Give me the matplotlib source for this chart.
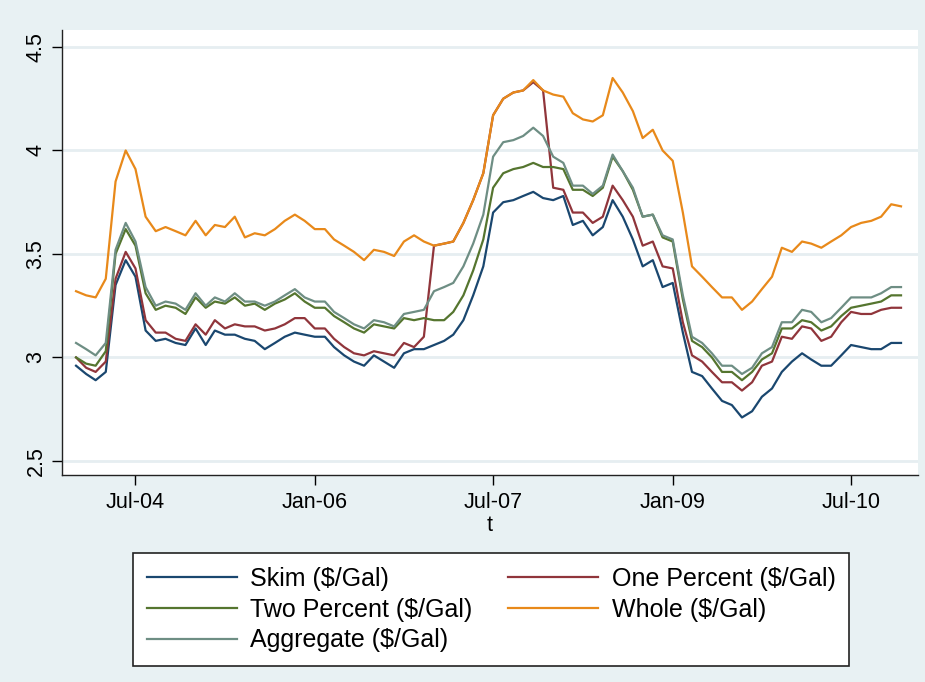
import matplotlib
matplotlib.use("Agg")
import matplotlib.pyplot as plt
import matplotlib.dates as mdates
import pandas as pd
import numpy as np

dates = pd.date_range("2004-01-01", periods=84, freq="MS")

skim = [2.96, 2.92, 2.89, 2.93, 3.35, 3.47, 3.39, 3.13, 3.08, 3.09, 3.07, 3.06,
        3.14, 3.06, 3.13, 3.11, 3.11, 3.09, 3.08, 3.04, 3.07, 3.10, 3.12, 3.11,
        3.10, 3.10, 3.05, 3.01, 2.98, 2.96, 3.01, 2.98, 2.95, 3.02, 3.04, 3.04,
        3.06, 3.08, 3.11, 3.18, 3.30, 3.44, 3.70, 3.75, 3.76, 3.78, 3.80, 3.77,
        3.76, 3.78, 3.64, 3.66, 3.59, 3.63, 3.76, 3.68, 3.57, 3.44, 3.47, 3.34,
        3.36, 3.12, 2.93, 2.91, 2.85, 2.79, 2.77, 2.71, 2.74, 2.81, 2.85, 2.93,
        2.98, 3.02, 2.99, 2.96, 2.96, 3.01, 3.06, 3.05, 3.04, 3.04, 3.07, 3.07]

one_pct = [3.00, 2.95, 2.93, 2.98, 3.38, 3.51, 3.43, 3.18, 3.12, 3.12, 3.09, 3.08,
           3.16, 3.11, 3.18, 3.14, 3.16, 3.15, 3.15, 3.13, 3.14, 3.16, 3.19, 3.19,
           3.14, 3.14, 3.09, 3.05, 3.02, 3.01, 3.03, 3.02, 3.01, 3.07, 3.05, 3.10,
           3.54, 3.55, 3.56, 3.65, 3.76, 3.89, 4.17, 4.25, 4.28, 4.29, 4.33, 4.29,
           3.82, 3.81, 3.70, 3.70, 3.65, 3.68, 3.83, 3.76, 3.68, 3.54, 3.56, 3.44,
           3.43, 3.17, 3.01, 2.98, 2.93, 2.88, 2.88, 2.84, 2.88, 2.96, 2.98, 3.10,
           3.09, 3.15, 3.14, 3.08, 3.10, 3.17, 3.22, 3.21, 3.21, 3.23, 3.24, 3.24]

two_pct = [3.00, 2.97, 2.96, 3.03, 3.50, 3.62, 3.54, 3.31, 3.23, 3.25, 3.24, 3.21,
           3.29, 3.24, 3.27, 3.26, 3.29, 3.25, 3.26, 3.23, 3.26, 3.28, 3.31, 3.27,
           3.24, 3.24, 3.20, 3.17, 3.14, 3.12, 3.16, 3.15, 3.14, 3.19, 3.18, 3.19,
           3.18, 3.18, 3.22, 3.30, 3.42, 3.57, 3.82, 3.89, 3.91, 3.92, 3.94, 3.92,
           3.92, 3.91, 3.81, 3.81, 3.78, 3.82, 3.97, 3.90, 3.81, 3.68, 3.69, 3.58,
           3.56, 3.28, 3.08, 3.05, 3.00, 2.93, 2.93, 2.89, 2.93, 2.99, 3.02, 3.14,
           3.14, 3.18, 3.17, 3.13, 3.15, 3.20, 3.24, 3.25, 3.26, 3.27, 3.30, 3.30]

whole = [3.32, 3.30, 3.29, 3.38, 3.85, 4.00, 3.91, 3.68, 3.61, 3.63, 3.61, 3.59,
         3.66, 3.59, 3.64, 3.63, 3.68, 3.58, 3.60, 3.59, 3.62, 3.66, 3.69, 3.66,
         3.62, 3.62, 3.57, 3.54, 3.51, 3.47, 3.52, 3.51, 3.49, 3.56, 3.59, 3.56,
         3.54, 3.55, 3.56, 3.65, 3.76, 3.89, 4.17, 4.25, 4.28, 4.29, 4.34, 4.29,
         4.27, 4.26, 4.18, 4.15, 4.14, 4.17, 4.35, 4.28, 4.19, 4.06, 4.10, 4.00,
         3.95, 3.70, 3.44, 3.39, 3.34, 3.29, 3.29, 3.23, 3.27, 3.33, 3.39, 3.53,
         3.51, 3.56, 3.55, 3.53, 3.56, 3.59, 3.63, 3.65, 3.66, 3.68, 3.74, 3.73]

aggregate = [3.07, 3.04, 3.01, 3.07, 3.52, 3.65, 3.56, 3.34, 3.25, 3.27, 3.26, 3.23,
             3.31, 3.25, 3.29, 3.27, 3.31, 3.27, 3.27, 3.25, 3.27, 3.30, 3.33, 3.29,
             3.27, 3.27, 3.22, 3.19, 3.16, 3.14, 3.18, 3.17, 3.15, 3.21, 3.22, 3.23,
             3.32, 3.34, 3.36, 3.44, 3.55, 3.69, 3.97, 4.04, 4.05, 4.07, 4.11, 4.07,
             3.97, 3.94, 3.83, 3.83, 3.79, 3.83, 3.98, 3.90, 3.82, 3.68, 3.69, 3.59,
             3.57, 3.30, 3.10, 3.07, 3.02, 2.96, 2.96, 2.92, 2.95, 3.02, 3.05, 3.17,
             3.17, 3.23, 3.22, 3.17, 3.19, 3.24, 3.29, 3.29, 3.29, 3.31, 3.34, 3.34]

series_labels = ["Skim ($/Gal)", "One Percent ($/Gal)", "Two Percent ($/Gal)",
                 "Whole ($/Gal)", "Aggregate ($/Gal)"]
series_colors = ["#1a476f", "#90353b", "#55752f", "#e8891a", "#6e8e84"]

x_tick_dates = ["2004-07-01", "2006-01-01", "2007-07-01", "2009-01-01", "2010-07-01"]
y_ticks = [2.5, 3.0, 3.5, 4.0, 4.5]
y_tick_labels = ["2.5", "3", "3.5", "4", "4.5"]

plt.rcParams["font.family"] = ["Liberation Sans", "DejaVu Sans"]

W, H = 925, 682
fig = plt.figure(figsize=(W / 100, H / 100), dpi=100)
bg = "#e8f1f3"
fig.patch.set_facecolor(bg)

ax = fig.add_axes([62 / W, 1 - 475 / H, (918 - 62) / W, (475 - 30) / H])
ax.set_facecolor("white")

for vals, lab, col in zip([skim, one_pct, two_pct, whole, aggregate],
                          series_labels, series_colors):
    ax.plot(dates, vals, color=col, lw=1.6, label=lab, solid_joinstyle="round")

ax.set_ylim(2.432, 4.582)
ax.set_xlim(dates[0] - pd.Timedelta(days=43), dates[-1] + pd.Timedelta(days=52))

ax.set_yticks(y_ticks)
ax.set_yticklabels(y_tick_labels, rotation=90, va="center", fontsize=15.5)
ax.set_xticks(pd.to_datetime(x_tick_dates))
ax.xaxis.set_major_formatter(mdates.DateFormatter("%b-%y"))
ax.tick_params(axis="x", labelsize=15.5, length=7, width=1, pad=5)
ax.tick_params(axis="y", length=7, width=1, pad=4)
ax.set_xlabel("t", fontsize=15.5, labelpad=2)

ax.grid(axis="y", color="#e6eef1", lw=2)
ax.set_axisbelow(True)
for s in ["top", "right"]:
    ax.spines[s].set_visible(False)
for s in ["left", "bottom"]:
    ax.spines[s].set_color("#222222")
    ax.spines[s].set_linewidth(1)

handles, labels = ax.get_legend_handles_labels()
order = [0, 2, 4, 1, 3]  # row-wise filling: Skim|One, Two|Whole, Aggregate
leg = fig.legend([handles[i] for i in order], [labels[i] for i in order],
                 ncol=2, loc="upper left",
                 bbox_to_anchor=(133 / W, 1 - 553 / H),
                 fontsize=18, frameon=True, fancybox=False,
                 edgecolor="#222222", facecolor="white", framealpha=1,
                 handlelength=3.6, handletextpad=0.55, columnspacing=1.4,
                 labelspacing=0.27, borderpad=0.55, borderaxespad=0)
leg.get_frame().set_linewidth(1.2)

fig.savefig("out.png", dpi=100, facecolor=bg)
